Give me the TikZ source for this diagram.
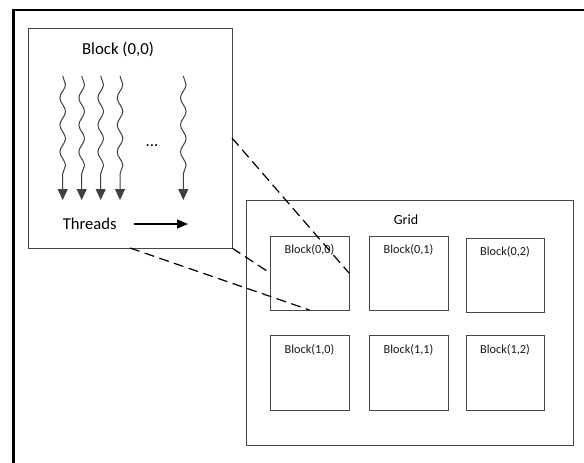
\documentclass[tikz,border=0pt]{standalone}
\usepackage{fontspec}
\setmainfont{Carlito}
\usetikzlibrary{arrows.meta,decorations.pathmorphing,calc}

\tikzset{
  box/.style={draw=black!72, line width=1pt, inner sep=0pt, outer sep=0pt, anchor=north west},
  cell/.style={box, minimum width=79pt, minimum height=74pt},
  cellname/.style={font=\fontsize{12.3}{14}\selectfont, text=black!90, inner sep=0pt},
  zoomline/.style={draw=black, line width=1.2pt, dash pattern=on 10pt off 5.5pt},
  thread/.style={draw=black!75, line width=1pt,
    decoration={snake, amplitude=2.8pt, segment length=27pt, post length=26pt},
    decorate, -{Triangle[width=10pt,length=11pt]}},
}

\begin{document}
\begin{tikzpicture}[x=1pt, y=-1pt]
  \useasboundingbox (0,0) rectangle (584,463);
  \fill[white] (0,0) rectangle (584,463);

  % frame along the top and left
  \draw[line width=2.7pt, line join=miter] (13.4,470) -- (13.4,9.9) -- (590,9.9);

  % one block with its threads
  \node[box, minimum width=204pt, minimum height=220pt] (blk) at (28,28) {};
  \node[font=\fontsize{16.8}{20}\selectfont, inner sep=0pt] (blktitle) at (118,50) {Block (0,0)};

  \foreach \i/\x in {1/62.7, 2/81.7, 3/100.7, 4/120, 5/183.3} {
    \coordinate (t\i a) at (\x,76);
    \coordinate (t\i b) at (\x,200);
    \draw[thread] (t\i a) -- (t\i b);
  }
  \node[font=\fontsize{16.8}{20}\selectfont, inner sep=0pt, anchor=base] (dots) at (152,146) {...};

  \node[font=\fontsize{16.6}{20}\selectfont, inner sep=0pt] (thr) at (89.7,223.5) {Threads};
  \coordinate (thrA) at (134,224);
  \coordinate (thrB) at (188,224);
  \draw[line width=1.5pt, -{Triangle[width=9pt,length=11pt]}] (thrA) -- (thrB);

  % the grid of blocks
  \node[box, minimum width=327pt, minimum height=245pt] (grid) at (246,200) {};
  \node[font=\fontsize{14}{16}\selectfont, inner sep=0pt] (gridtitle) at (406,219.5) {Grid};

  \node[cell] (b00) at (270,236) {};
  \node[cell] (b01) at (369,236) {};
  \node[cell, minimum width=78pt] (b02) at (466,238) {};
  \node[cell, minimum height=75pt] (b10) at (270,335) {};
  \node[cell, minimum height=75pt] (b11) at (369,335) {};
  \node[cell, minimum width=78pt, minimum height=75pt] (b12) at (466,335) {};

  \node[cellname] (l00) at ([yshift=-14pt]b00.north) {Block(0,0)};
  \node[cellname] (l01) at ([yshift=-14pt]b01.north) {Block(0,1)};
  \node[cellname] (l02) at ([yshift=-14pt]b02.north) {Block(0,2)};
  \node[cellname] (l10) at ([yshift=-15pt]b10.north) {Block(1,0)};
  \node[cellname] (l11) at ([yshift=-15pt]b11.north) {Block(1,1)};
  \node[cellname] (l12) at ([yshift=-15pt]b12.north) {Block(1,2)};

  % the block drawn large is Block(0,0) of the grid
  \draw[zoomline] (blk.east) -- (b00.east);
  \draw[zoomline] (blk.south east) -- (b00.west);
  \draw[zoomline] (blk.south) -- (b00.south);
\end{tikzpicture}
\end{document}
